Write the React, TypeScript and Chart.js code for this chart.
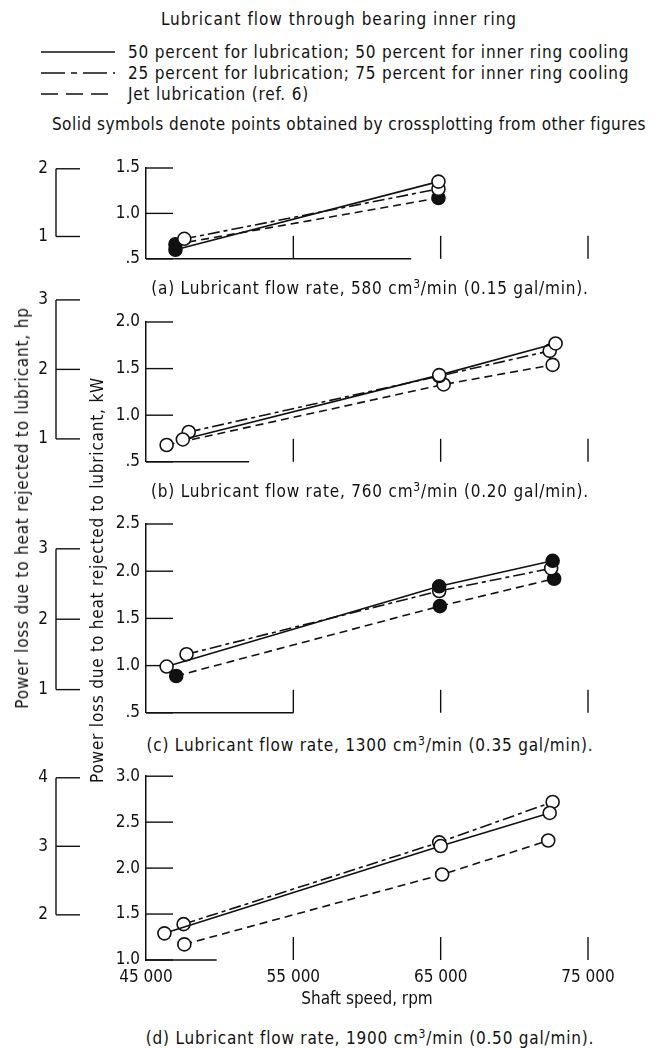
import React, { useEffect, useRef } from "react";
import { Chart, registerables } from "chart.js";

Chart.register(...registerables);

const FONT = '"DejaVu Sans Condensed", "Liberation Sans Narrow", "DejaVu Sans", sans-serif';
const INK = "#111";
const HP_TO_KW = 0.7457;

// ---------- shared axis values ----------
const speedTicks = [45000, 55000, 65000, 75000];
const speedMarks = [55000, 65000, 75000];

// ---------- legend ----------
const seriesNames = [
  "50 percent for lubrication; 50 percent for inner ring cooling",
  "25 percent for lubrication; 75 percent for inner ring cooling",
  "Jet lubrication (ref. 6)",
];

// ---------- panel (a) 580 cm3/min ----------
const aKwTicks = [0.5, 1.0, 1.5];
const aHpTicks = [1, 2];
const aSpeed50 = [47000, 64850];
const aPower50 = [0.6, 1.35];
const aFilled50 = [true, false];
const aSpeed25 = [47600, 64850];
const aPower25 = [0.72, 1.27];
const aFilled25 = [false, false];
const aSpeedJet = [47000, 64850];
const aPowerJet = [0.66, 1.17];
const aFilledJet = [true, true];

// ---------- panel (b) 760 cm3/min ----------
const bKwTicks = [0.5, 1.0, 1.5, 2.0];
const bHpTicks = [1, 2, 3];
const bSpeed50 = [47500, 64900, 72800];
const bPower50 = [0.74, 1.43, 1.77];
const bFilled50 = [false, false, false];
const bSpeed25 = [47900, 64900, 72400];
const bPower25 = [0.82, 1.42, 1.69];
const bFilled25 = [false, false, false];
const bSpeedJet = [46400, 65200, 72600];
const bPowerJet = [0.68, 1.33, 1.54];
const bFilledJet = [false, false, false];

// ---------- panel (c) 1300 cm3/min ----------
const cKwTicks = [0.5, 1.0, 1.5, 2.0, 2.5];
const cHpTicks = [1, 2, 3];
const cSpeed50 = [46400, 64900, 72600];
const cPower50 = [0.99, 1.84, 2.11];
const cFilled50 = [false, true, true];
const cSpeed25 = [47750, 64900, 72500];
const cPower25 = [1.12, 1.79, 2.03];
const cFilled25 = [false, false, false];
const cSpeedJet = [47050, 64950, 72700];
const cPowerJet = [0.89, 1.63, 1.92];
const cFilledJet = [true, true, true];

// ---------- panel (d) 1900 cm3/min ----------
const dKwTicks = [1.0, 1.5, 2.0, 2.5, 3.0];
const dHpTicks = [2, 3, 4];
const dSpeed50 = [46250, 65000, 72400];
const dPower50 = [1.29, 2.24, 2.6];
const dFilled50 = [false, false, false];
const dSpeed25 = [47550, 64900, 72600];
const dPower25 = [1.39, 2.28, 2.72];
const dFilled25 = [false, false, false];
const dSpeedJet = [47600, 65100, 72300];
const dPowerJet = [1.17, 1.93, 2.3];
const dFilledJet = [false, false, false];

const captions = [
  ["(a) Lubricant flow rate, 580 cm", "/min (0.15 gal/min)."],
  ["(b) Lubricant flow rate, 760 cm", "/min (0.20 gal/min)."],
  ["(c) Lubricant flow rate, 1300 cm", "/min (0.35 gal/min)."],
  ["(d) Lubricant flow rate, 1900 cm", "/min (0.50 gal/min)."],
];

// ---------- styles ----------
const DASH_SOLID: number[] = [];
const DASH_MIXED = [12, 4, 4, 4];
const DASH_JET = [8, 5];
const FS = 17;

type Ser = { speed: number[]; power: number[]; filled: boolean[]; dash: number[] };
type PanelCfg = {
  top: number;
  height: number;
  padTop: number;
  padBottom: number;
  kwTicks: number[];
  hpTicks: number[];
  baseEnd: number;
  showX: boolean;
  series: Ser[];
};

const panels: PanelCfg[] = [
  {
    top: 150, height: 125, padTop: 18, padBottom: 11,
    kwTicks: aKwTicks, hpTicks: aHpTicks, baseEnd: 63000, showX: false,
    series: [
      { speed: aSpeed50, power: aPower50, filled: aFilled50, dash: DASH_SOLID },
      { speed: aSpeed25, power: aPower25, filled: aFilled25, dash: DASH_MIXED },
      { speed: aSpeedJet, power: aPowerJet, filled: aFilledJet, dash: DASH_JET },
    ],
  },
  {
    top: 285, height: 193, padTop: 37, padBottom: 12,
    kwTicks: bKwTicks, hpTicks: bHpTicks, baseEnd: 52000, showX: false,
    series: [
      { speed: bSpeed50, power: bPower50, filled: bFilled50, dash: DASH_SOLID },
      { speed: bSpeed25, power: bPower25, filled: bFilled25, dash: DASH_MIXED },
      { speed: bSpeedJet, power: bPowerJet, filled: bFilledJet, dash: DASH_JET },
    ],
  },
  {
    top: 505, height: 224, padTop: 19, padBottom: 12,
    kwTicks: cKwTicks, hpTicks: cHpTicks, baseEnd: 55000, showX: false,
    series: [
      { speed: cSpeed50, power: cPower50, filled: cFilled50, dash: DASH_SOLID },
      { speed: cSpeed25, power: cPower25, filled: cFilled25, dash: DASH_MIXED },
      { speed: cSpeedJet, power: cPowerJet, filled: cFilledJet, dash: DASH_JET },
    ],
  },
  {
    top: 760, height: 250, padTop: 14, padBottom: 0,
    kwTicks: dKwTicks, hpTicks: dHpTicks, baseEnd: 49800, showX: true,
    series: [
      { speed: dSpeed50, power: dPower50, filled: dFilled50, dash: DASH_SOLID },
      { speed: dSpeed25, power: dPower25, filled: dFilled25, dash: DASH_MIXED },
      { speed: dSpeedJet, power: dPowerJet, filled: dFilledJet, dash: DASH_JET },
    ],
  },
];

const extrasPlugin = {
  id: "extras",
  beforeDatasetsDraw(chart: any, _args: any, opts: any) {
    const { ctx, chartArea } = chart;
    const xs = chart.scales.x;
    const ys = chart.scales.y;
    const line = (x1: number, y1: number, x2: number, y2: number) => {
      ctx.beginPath();
      ctx.moveTo(x1, y1);
      ctx.lineTo(x2, y2);
      ctx.stroke();
    };
    ctx.save();
    ctx.strokeStyle = INK;
    ctx.lineWidth = 1.4;
    // inward kW ticks
    for (const v of opts.kwTicks) {
      const py = ys.getPixelForValue(v);
      line(chartArea.left, py, chartArea.left + 27, py);
    }
    // upward speed ticks
    for (const v of opts.speedMarks) {
      const px = xs.getPixelForValue(v);
      line(px, chartArea.bottom, px, chartArea.bottom - 23);
    }
    // partial baseline
    line(xs.getPixelForValue(speedTicks[0]), chartArea.bottom, xs.getPixelForValue(opts.baseEnd), chartArea.bottom);
    // hp bracket
    const hpPix: number[] = opts.hpTicks.map((h: number) => ys.getPixelForValue(h * HP_TO_KW));
    const bx = 56;
    line(bx, Math.min(...hpPix), bx, Math.max(...hpPix));
    hpPix.forEach((p) => line(bx, p, bx + 24, p));
    ctx.fillStyle = INK;
    ctx.font = `${FS}px ${FONT}`;
    ctx.textAlign = "right";
    ctx.textBaseline = "middle";
    opts.hpTicks.forEach((h: number, i: number) => ctx.fillText(String(h), bx - 8, hpPix[i]));
    ctx.restore();
  },
};

function Panel({ cfg }: { cfg: PanelCfg }) {
  const ref = useRef<HTMLCanvasElement>(null);
  useEffect(() => {
    const canvas = ref.current!;
    const datasets = cfg.series.map((s) => ({
      data: s.speed.map((x, i) => ({ x, y: s.power[i] })),
      showLine: true,
      borderColor: INK,
      borderWidth: 1.6,
      borderDash: s.dash,
      pointRadius: 6.5,
      pointBorderWidth: 1.6,
      pointBorderColor: INK,
      pointBackgroundColor: s.filled.map((f) => (f ? INK : "#fff")),
      fill: false,
      tension: 0,
    }));
    const chart = new Chart(canvas, {
      type: "scatter",
      data: { datasets },
      plugins: [extrasPlugin],
      options: {
        responsive: false,
        animation: false,
        events: [],
        layout: { padding: { left: 0, right: 73, top: cfg.padTop, bottom: cfg.padBottom } },
        plugins: {
          legend: { display: false },
          tooltip: { enabled: false },
          extras: { kwTicks: cfg.kwTicks, hpTicks: cfg.hpTicks, speedMarks, baseEnd: cfg.baseEnd },
        } as any,
        scales: {
          x: {
            type: "linear",
            min: speedTicks[0],
            max: speedTicks[speedTicks.length - 1],
            display: cfg.showX,
            afterFit: (s: any) => {
              s.height = cfg.showX ? 50 : 0;
            },
            afterBuildTicks: (s: any) => {
              s.ticks = speedTicks.map((value) => ({ value }));
            },
            border: { display: false },
            grid: { display: false, drawTicks: false },
            ticks: {
              color: INK,
              font: { family: FONT, size: FS },
              padding: 7,
              maxRotation: 0,
              autoSkip: false,
              callback: (v: any) => {
                const n = Number(v);
                return `${Math.floor(n / 1000)} ${String(n % 1000).padStart(3, "0")}`;
              },
            },
            title: {
              display: true,
              text: "Shaft speed, rpm",
              color: INK,
              font: { family: FONT, size: FS },
              padding: { top: 0, bottom: 0 },
            },
          },
          y: {
            type: "linear",
            min: cfg.kwTicks[0],
            max: cfg.kwTicks[cfg.kwTicks.length - 1],
            afterFit: (s: any) => {
              s.width = 146;
            },
            afterBuildTicks: (s: any) => {
              s.ticks = cfg.kwTicks.map((value) => ({ value }));
            },
            border: { display: true, color: INK, width: 1.5 },
            grid: { display: false, drawTicks: false },
            ticks: {
              color: INK,
              font: { family: FONT, size: FS },
              padding: 6,
              callback: (v: any) => {
                const n = Number(v);
                return n < 1 ? n.toFixed(1).replace(/^0/, "") : n.toFixed(1);
              },
            },
          },
        },
      } as any,
    });
    return () => chart.destroy();
  }, [cfg]);
  return (
    <canvas
      ref={ref}
      width={661}
      height={cfg.height}
      style={{ position: "absolute", left: 0, top: cfg.top, width: 661, height: cfg.height }}
    />
  );
}

const captionY = [286, 489, 743, 1036];
const legendY = [52, 73, 94];
const legendDash = ["", "24 6 6 6", "17 8"];

export default function App() {
  const txt: React.CSSProperties = {
    position: "absolute",
    whiteSpace: "nowrap",
    fontFamily: FONT,
    fontSize: FS,
    color: INK,
    lineHeight: "20px",
    letterSpacing: "0.8px",
  };
  return (
    <div style={{ position: "absolute", left: 0, top: 0, width: 661, height: 1049, background: "#fff", overflow: "hidden" }}>
      <div style={{ ...txt, left: 339, top: 19, letterSpacing: "1px", transform: "translate(-50%,-50%)" }}>
        Lubricant flow through bearing inner ring
      </div>
      {seriesNames.map((name, i) => (
        <React.Fragment key={name}>
          <svg width={76} height={10} style={{ position: "absolute", left: 41, top: legendY[i] - 5 }}>
            <line x1={0} y1={5} x2={74} y2={5} stroke={INK} strokeWidth={1.6} strokeDasharray={legendDash[i] || undefined} />
          </svg>
          <div style={{ ...txt, left: 128, top: legendY[i], transform: "translateY(-50%)" }}>{name}</div>
        </React.Fragment>
      ))}
      <div style={{ ...txt, left: 349, top: 124, letterSpacing: "0.5px", transform: "translate(-50%,-50%)" }}>
        Solid symbols denote points obtained by crossplotting from other figures
      </div>
      {panels.map((p, i) => (
        <Panel key={i} cfg={p} />
      ))}
      {captions.map((c, i) => (
        <div key={i} style={{ ...txt, left: 370, top: captionY[i], transform: "translate(-50%,-50%)" }}>
          {c[0]}
          <sup style={{ fontSize: 12 }}>3</sup>
          {c[1]}
        </div>
      ))}
      <div style={{ ...txt, left: 22, top: 508, transform: "translate(-50%,-50%) rotate(-90deg)" }}>
        Power loss due to heat rejected to lubricant, hp
      </div>
      <div style={{ ...txt, left: 97, top: 580, transform: "translate(-50%,-50%) rotate(-90deg)" }}>
        Power loss due to heat rejected to lubricant, kW
      </div>
    </div>
  );
}
